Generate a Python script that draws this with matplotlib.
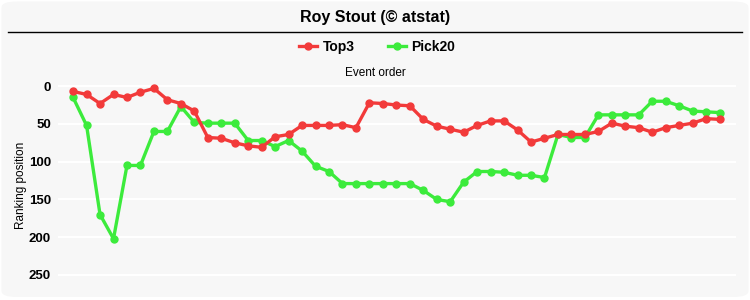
import matplotlib
import matplotlib.pyplot as plt
from matplotlib.patches import FancyBboxPatch
from matplotlib.lines import Line2D

matplotlib.use("Agg")

TITLE = "Roy Stout (© atstat)"
SERIES_NAMES = ["Top3", "Pick20"]
Y_TICKS = [0, 50, 100, 150, 200, 250]

top3 = [7, 11, 23, 11, 15, 8, 3, 18, 23, 33,
        68, 69, 75, 79, 81, 67, 64, 52, 52, 52,
        51, 55, 22, 23, 25, 26, 44, 53, 57, 61,
        52, 46, 46, 58, 74, 69, 64, 64, 64, 60,
        49, 53, 55, 61, 55, 52, 49, 43, 44]
pick20 = [15, 52, 170, 202, 105, 105, 60, 60, 27, 48,
          49, 49, 49, 72, 72, 80, 72, 86, 106, 113,
          129, 129, 129, 129, 129, 129, 138, 150, 153, 127,
          113, 113, 114, 118, 118, 121, 64, 68, 68, 38,
          38, 38, 38, 20, 20, 26, 33, 34, 35]

RED = "#f23a3a"
GREEN = "#3ceb3c"
BG = "#f7f7f7"

plt.rcParams["font.family"] = ["Liberation Sans", "DejaVu Sans"]

fig = plt.figure(figsize=(7.5, 3.0), dpi=100)
fig.patch.set_facecolor("white")

# rounded panel behind everything
panel = FancyBboxPatch((0.002, 0.01), 0.996, 0.985,
                       boxstyle="round,pad=0,rounding_size=0.02",
                       transform=fig.transFigure, facecolor=BG,
                       edgecolor="none", zorder=-10)
fig.patches.append(panel)

fig.text(0.5, 0.943, TITLE, ha="center", va="center",
         fontsize=11.5, fontweight="bold")
fig.add_artist(Line2D([0.011, 0.989], [0.893, 0.893],
                      transform=fig.transFigure, color="black", lw=1.0))

ax = fig.add_axes([0.077, 0.033, 0.904, 0.70])
ax.set_facecolor(BG)
x = list(range(len(top3)))
ax.plot(x, top3, color=RED, lw=2.4, marker="o", ms=5, label=SERIES_NAMES[0], zorder=3)
ax.plot(x, pick20, color=GREEN, lw=2.4, marker="o", ms=5, label=SERIES_NAMES[1], zorder=2)

ax.set_xlim(-1.14, len(top3) - 1 + 1.2)
ax.set_ylim(270, -8)
ax.set_yticks(Y_TICKS)
ax.set_xticks([])
for t in Y_TICKS:
    ax.axhline(t, color="white", lw=1.5, zorder=0)
ax.tick_params(axis="y", length=0, pad=5, labelsize=9.5)
for lbl in ax.get_yticklabels():
    lbl.set_fontweight("bold")
for s in ax.spines.values():
    s.set_visible(False)

ax.set_ylabel("Ranking position", fontsize=8.5)
ax.yaxis.set_label_coords(-0.046, 0.5)
fig.text(0.5, 0.757, "Event order", ha="center", va="center", fontsize=8.5)

leg = fig.legend(loc="center", bbox_to_anchor=(0.503, 0.843), ncol=2,
                 frameon=False, handlelength=1.3, columnspacing=2.4,
                 handletextpad=0.4, prop={"weight": "bold", "size": 10})

fig.savefig("out.png", dpi=100, facecolor=fig.get_facecolor())
